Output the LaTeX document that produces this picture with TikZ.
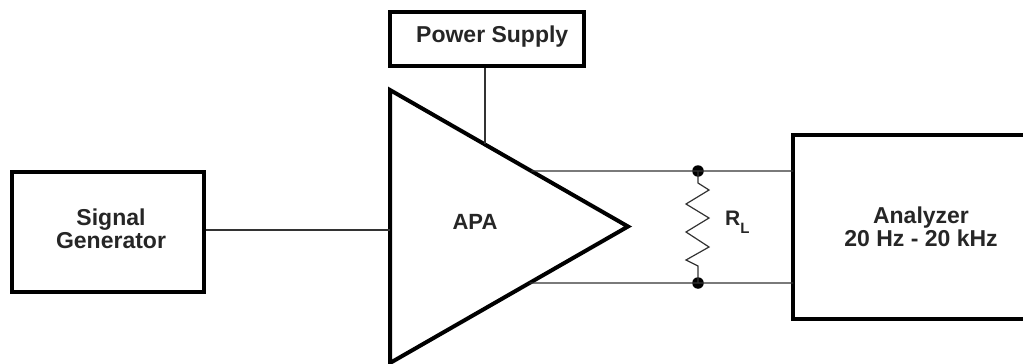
\documentclass[tikz,border=0pt]{standalone}
\usepackage{fontspec}
\setmainfont{Liberation Sans}
\begin{document}
\begin{tikzpicture}[x=1pt,y=-1pt,
  blk/.style={draw=black,line width=4pt,inner sep=0pt,anchor=north west},
  lbl/.style={font=\fontsize{23}{23.5}\selectfont\bfseries,text=black!85,align=center,inner sep=0pt},
  wire/.style={draw=black!80,line width=1.4pt},
  thick4/.style={draw=black,line width=4pt,line join=miter},
  dot/.style={circle,fill=black,inner sep=0pt,minimum size=11.5pt}]
\useasboundingbox (0,0) rectangle (1023,364);
% blocks
\node[blk,minimum width=192pt,minimum height=120pt] (sg) at (10,170) {};
\node[lbl] (sgt) at (111,229) {Signal\\Generator};
\node[blk,minimum width=194pt,minimum height=54pt] (ps) at (388,10) {};
\node[lbl,anchor=west] (pst) at (416,37) {Power Supply};
% analyzer box (open at right)
\coordinate (an1) at (1030,135);
\coordinate (an2) at (793,135);
\coordinate (an3) at (793,319);
\coordinate (an4) at (1030,319);
\draw[thick4] (an1) -- (an2) -- (an3) -- (an4);
\node[lbl] (ant) at (921,227) {Analyzer\\20 Hz - 20 kHz};
% amplifier triangle
\coordinate (tA) at (390,90);
\coordinate (tB) at (628,226.5);
\coordinate (tC) at (390,363);
\draw[thick4] (tA) -- (tB) -- (tC) -- cycle;
\node[lbl,font=\fontsize{22}{24}\selectfont\bfseries] (apa) at (475,222) {APA};
% connections
\coordinate (inp) at (390,230);
\draw[wire] (sg.east |- inp) -- (inp);
\coordinate (pin) at (intersection of tA--tB and 485,0--485,300);
\draw[wire] (ps.south -| pin) -- (pin);
\node[dot] (d1) at (698,171) {};
\node[dot] (d2) at (698,283) {};
\coordinate (oT) at (intersection of tA--tB and 0,171--1000,171);
\coordinate (oB) at (intersection of tC--tB and 0,283--1000,283);
\draw[wire] (oT) -- (d1.center) -- (an2 |- d1);
\draw[wire] (oB) -- (d2.center) -- (an2 |- d2);
% resistor
\draw[wire,line width=1.2pt,line join=miter] (d1.center) -- (698,183) -- (709,190) -- (686,204) -- (709,218) -- (686,232) -- (709,247) -- (686,260) -- (698,266) -- (d2.center);
\node[lbl,anchor=west,font=\fontsize{21}{24}\selectfont\bfseries] (rl) at (725,222) {R\raisebox{-0.4em}{\fontsize{15}{16}\selectfont L}};
\end{tikzpicture}
\end{document}
